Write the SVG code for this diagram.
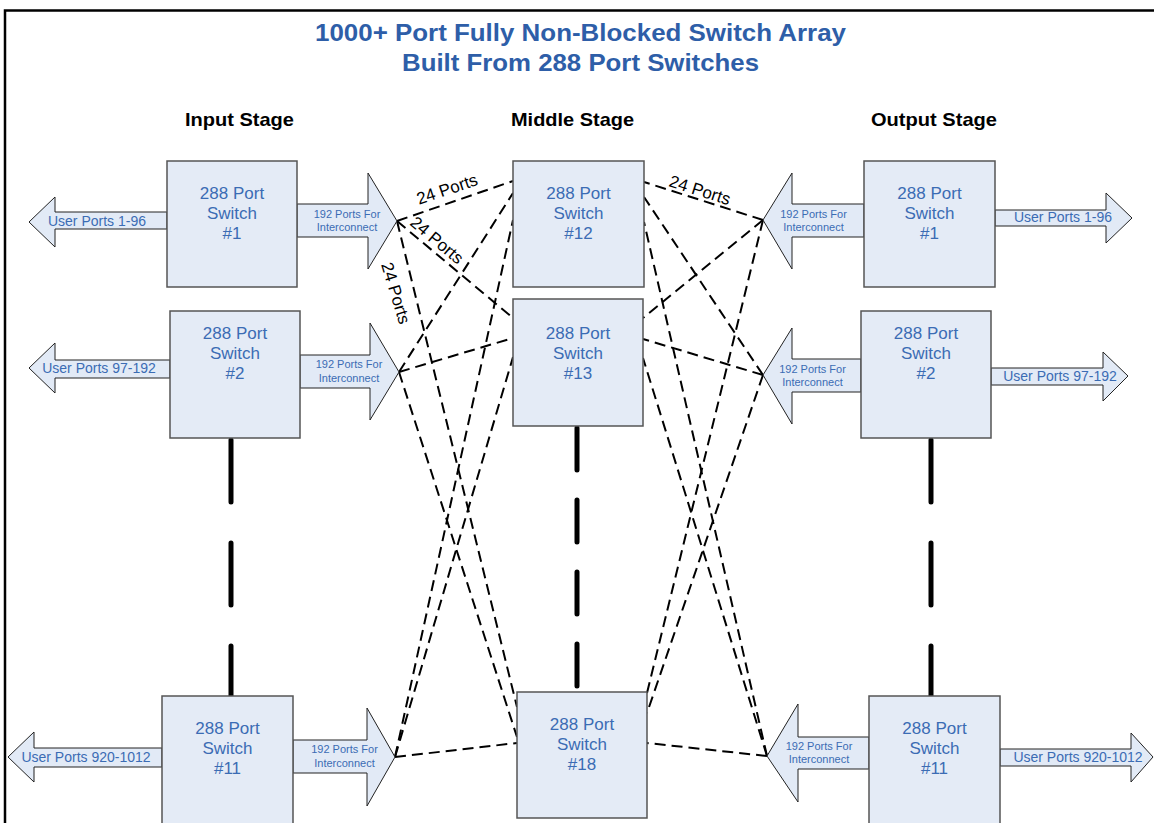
<svg xmlns="http://www.w3.org/2000/svg" width="1154" height="823" viewBox="0 0 1154 823">
<style>
.title{font-family:"Liberation Sans",Arial,sans-serif;font-weight:bold;fill:#2e5ea8;text-anchor:middle}
.stage{font-family:"Liberation Sans",Arial,sans-serif;font-weight:bold;fill:#000;text-anchor:middle;font-size:18.5px}
.box{fill:#e4ebf6;stroke:#555;stroke-width:1.5}
.btxt{font-family:"Liberation Sans",Arial,sans-serif;fill:#3b6cb4;text-anchor:middle;font-size:17px}
.arr{fill:#e2eaf6;stroke:#222;stroke-width:1}
.utxt{font-family:"Liberation Sans",Arial,sans-serif;fill:#3b6cb4;text-anchor:middle;font-size:14px}
.itxt{font-family:"Liberation Sans",Arial,sans-serif;fill:#3b6cb4;text-anchor:middle;font-size:11px}
.dash{stroke:#000;stroke-width:2;stroke-dasharray:11 6;fill:none}
.thick{stroke:#000;stroke-width:5;stroke-linecap:round;fill:none}
.lbl{font-family:"Liberation Sans",Arial,sans-serif;fill:#000;text-anchor:middle;font-size:17px}
</style>
<path d="M5,823 V10.5 H1154" fill="none" stroke="#000" stroke-width="2.5"/>
<text class="title" x="580.5" y="41" font-size="24" textLength="531" lengthAdjust="spacingAndGlyphs">1000+ Port Fully Non-Blocked Switch Array</text>
<text class="title" x="580.5" y="71" font-size="24" textLength="357" lengthAdjust="spacingAndGlyphs">Built From 288 Port Switches</text>
<text class="stage" x="239.5" y="126" textLength="109" lengthAdjust="spacingAndGlyphs">Input Stage</text>
<text class="stage" x="572.5" y="126" textLength="123" lengthAdjust="spacingAndGlyphs">Middle Stage</text>
<text class="stage" x="934" y="126" textLength="126" lengthAdjust="spacingAndGlyphs">Output Stage</text>

<g id="connectors">
<line class="dash" x1="397" y1="221" x2="513" y2="181"/>
<line class="dash" x1="397" y1="221" x2="513" y2="318"/>
<line class="dash" x1="397" y1="221" x2="517" y2="707"/>
<line class="dash" x1="399" y1="372" x2="513" y2="193"/>
<line class="dash" x1="399" y1="372" x2="513" y2="338"/>
<line class="dash" x1="399" y1="372" x2="517" y2="737"/>
<line class="dash" x1="395" y1="757" x2="513" y2="220"/>
<line class="dash" x1="395" y1="757" x2="513" y2="357"/>
<line class="dash" x1="395" y1="757" x2="517" y2="743"/>
<line class="dash" x1="763" y1="220" x2="644" y2="182"/>
<line class="dash" x1="763" y1="220" x2="643" y2="318"/>
<line class="dash" x1="763" y1="220" x2="647" y2="693"/>
<line class="dash" x1="763" y1="375" x2="644" y2="197"/>
<line class="dash" x1="763" y1="375" x2="643" y2="339"/>
<line class="dash" x1="763" y1="375" x2="647" y2="713"/>
<line class="dash" x1="767" y1="756" x2="644" y2="222"/>
<line class="dash" x1="767" y1="756" x2="643" y2="358"/>
<line class="dash" x1="767" y1="756" x2="647" y2="743"/>
<line class="thick" x1="231" y1="440" x2="231" y2="696" stroke-dasharray="62 41"/>
<line class="thick" x1="577" y1="428" x2="577" y2="692" stroke-dasharray="42 30"/>
<line class="thick" x1="931" y1="440" x2="931" y2="696" stroke-dasharray="62 41"/>
<text class="lbl" transform="translate(447,189) rotate(-18.6)" y="6">24 Ports</text>
<text class="lbl" transform="translate(437,240) rotate(40)" y="6">24 Ports</text>
<text class="lbl" transform="translate(396,293) rotate(73)" y="6">24 Ports</text>
<text class="lbl" transform="translate(700,190) rotate(17.7)" y="6">24 Ports</text>
</g>

<g id="in1">
<polygon class="arr" points="167,212 55,212 55,197 29,222 55,247 55,229 167,229"/>
<text class="utxt" x="97" y="225.5">User Ports 1-96</text>
<polygon class="arr" points="297,204 368,204 368,173 397,221 368,269 368,237 297,237"/>
<text class="itxt" x="347" y="218">192 Ports For</text>
<text class="itxt" x="347" y="231">Interconnect</text>
<rect class="box" x="167" y="161" width="130" height="126"/>
<text class="btxt" x="232" y="199">288 Port</text>
<text class="btxt" x="232" y="219">Switch</text>
<text class="btxt" x="232" y="239">#1</text>
</g>

<g id="in2">
<polygon class="arr" points="170,360 55,360 55,343 29,368 55,393 55,378 170,378"/>
<text class="utxt" x="99" y="373">User Ports 97-192</text>
<polygon class="arr" points="300,355 370,355 370,323 399,372 370,420 370,388 300,388"/>
<text class="itxt" x="349" y="368">192 Ports For</text>
<text class="itxt" x="349" y="382">Interconnect</text>
<rect class="box" x="170" y="311" width="130" height="127"/>
<text class="btxt" x="235" y="339">288 Port</text>
<text class="btxt" x="235" y="359">Switch</text>
<text class="btxt" x="235" y="379">#2</text>
</g>

<g id="in11">
<polygon class="arr" points="162,748 34,748 34,732 8,757 34,782 34,767 162,767"/>
<text class="utxt" x="86" y="762">User Ports 920-1012</text>
<polygon class="arr" points="293,740 367,740 367,708 395,757 367,806 367,773 293,773"/>
<text class="itxt" x="344.5" y="753">192 Ports For</text>
<text class="itxt" x="344.5" y="767">Interconnect</text>
<rect class="box" x="162" y="696" width="131" height="130"/>
<text class="btxt" x="227.5" y="734">288 Port</text>
<text class="btxt" x="227.5" y="754">Switch</text>
<text class="btxt" x="227.5" y="774">#11</text>
</g>

<g id="mid12">
<rect class="box" x="513" y="161" width="131" height="126"/>
<text class="btxt" x="578.5" y="199">288 Port</text>
<text class="btxt" x="578.5" y="219">Switch</text>
<text class="btxt" x="578.5" y="239">#12</text>
</g>

<g id="mid13">
<rect class="box" x="513" y="299" width="130" height="127"/>
<text class="btxt" x="578" y="339">288 Port</text>
<text class="btxt" x="578" y="359">Switch</text>
<text class="btxt" x="578" y="379">#13</text>
</g>

<g id="mid18">
<rect class="box" x="517" y="692" width="130" height="126"/>
<text class="btxt" x="582" y="730">288 Port</text>
<text class="btxt" x="582" y="750">Switch</text>
<text class="btxt" x="582" y="770">#18</text>
</g>

<g id="out1">
<polygon class="arr" points="864,204 792,204 792,173 763,220 792,269 792,237 864,237"/>
<text class="itxt" x="813.5" y="218">192 Ports For</text>
<text class="itxt" x="813.5" y="231">Interconnect</text>
<polygon class="arr" points="995,210 1106,210 1106,193 1132,218 1106,243 1106,226 995,226"/>
<text class="utxt" x="1063" y="222">User Ports 1-96</text>
<rect class="box" x="864" y="161" width="131" height="126"/>
<text class="btxt" x="929.5" y="199">288 Port</text>
<text class="btxt" x="929.5" y="219">Switch</text>
<text class="btxt" x="929.5" y="239">#1</text>
</g>

<g id="out2">
<polygon class="arr" points="861,359 792,359 792,328 763,375 792,424 792,392 861,392"/>
<text class="itxt" x="812.5" y="373">192 Ports For</text>
<text class="itxt" x="812.5" y="386">Interconnect</text>
<polygon class="arr" points="991,368 1103,368 1103,352 1128,376 1103,401 1103,385 991,385"/>
<text class="utxt" x="1060" y="381">User Ports 97-192</text>
<rect class="box" x="861" y="311" width="130" height="127"/>
<text class="btxt" x="926" y="339">288 Port</text>
<text class="btxt" x="926" y="359">Switch</text>
<text class="btxt" x="926" y="379">#2</text>
</g>

<g id="out11">
<polygon class="arr" points="869,737 798,737 798,704 767,756 798,802 798,769 869,769"/>
<text class="itxt" x="819" y="750">192 Ports For</text>
<text class="itxt" x="819" y="763">Interconnect</text>
<polygon class="arr" points="1000,749 1131,749 1131,733 1153,757 1131,782 1131,766 1000,766"/>
<text class="utxt" x="1078" y="762">User Ports 920-1012</text>
<rect class="box" x="869" y="696" width="131" height="130"/>
<text class="btxt" x="934.5" y="734">288 Port</text>
<text class="btxt" x="934.5" y="754">Switch</text>
<text class="btxt" x="934.5" y="774">#11</text>
</g>
</svg>
